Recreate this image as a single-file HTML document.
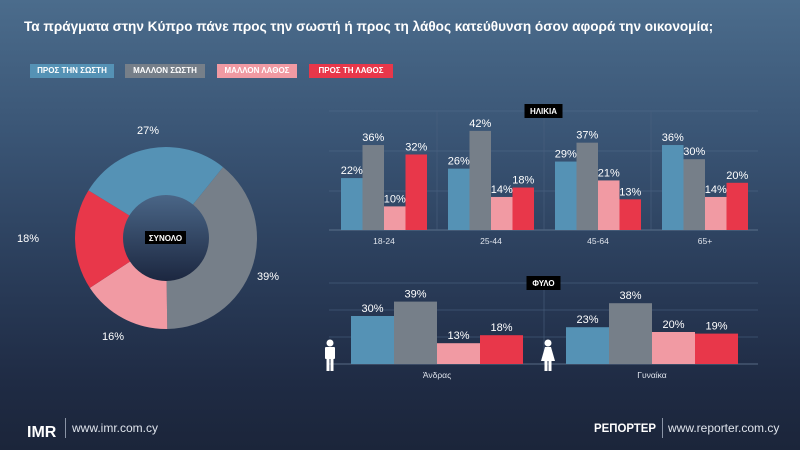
<!DOCTYPE html>
<html><head><meta charset="utf-8"><style>
*{margin:0;padding:0;box-sizing:border-box}
body{width:800px;height:450px;overflow:hidden;font-family:"Liberation Sans","DejaVu Sans",sans-serif;background:linear-gradient(180deg,#4b6c8c 0%,#3a5575 30%,#2a3d5a 60%,#1f2b44 85%,#1b253a 100%);position:relative;color:#fff}
.t{position:absolute;left:24px;top:19px;font-size:13.6px;font-weight:bold;white-space:nowrap}
.lg{position:absolute;top:64px;height:14px;font-size:8px;font-weight:bold;color:#fff;text-align:center;line-height:14px}
</style></head><body>
<div class="t">Τα πράγματα στην Κύπρο πάνε προς την σωστή ή προς τη λάθος κατεύθυνση όσον αφορά την οικονομία;</div>
<div class="lg" style="left:30px;width:84px;background:#5592b5">ΠΡΟΣ ΤΗΝ ΣΩΣΤΗ</div>
<div class="lg" style="left:125px;width:80px;background:#767f89">ΜΑΛΛΟΝ ΣΩΣΤΗ</div>
<div class="lg" style="left:217px;width:80px;background:#f19aa3">ΜΑΛΛΟΝ ΛΑΘΟΣ</div>
<div class="lg" style="left:309px;width:84px;background:#e8374a">ΠΡΟΣ ΤΗ ΛΑΘΟΣ</div>
<svg width="800" height="450" style="position:absolute;left:0;top:0" font-family="Liberation Sans, DejaVu Sans, sans-serif">
<defs><linearGradient id="hole" x1="0" y1="0" x2="0" y2="1"><stop offset="0" stop-color="#4a6687"/><stop offset="1" stop-color="#1c2740"/></linearGradient></defs>
<g id="donut"></g>
<circle cx="166" cy="238" r="43" fill="url(#hole)"/>
<rect x="145" y="231" width="41" height="13" fill="#000"/>
<text x="165.5" y="241" font-size="8" font-weight="bold" fill="#fff" text-anchor="middle">ΣΥΝΟΛΟ</text>
<g font-size="11" fill="#fff" text-anchor="middle">
<text x="148" y="134">27%</text><text x="268" y="280">39%</text><text x="113" y="340">16%</text><text x="28" y="242">18%</text>
</g>
<g id="charts"></g>
<g fill="#fff">
<circle cx="330" cy="343" r="3.5"/><rect x="325" y="347" width="10" height="12" rx="1"/><rect x="326.5" y="358" width="3" height="13"/><rect x="330.5" y="358" width="3" height="13"/>
<circle cx="548" cy="343" r="3.5"/><path d="M545 347h6l4 14h-14z"/><rect x="544.5" y="360" width="3" height="11"/><rect x="548.5" y="360" width="3" height="11"/>
</g>
<text x="27" y="437" font-size="16" font-weight="bold" fill="#fff">IMR</text>
<rect x="65" y="418" width="1" height="20" fill="#8a94a6"/>
<text x="72" y="432" font-size="12" fill="#dfe4ec">www.imr.com.cy</text>
<text x="594" y="432" font-size="12" font-weight="bold" fill="#fff" textLength="62" lengthAdjust="spacingAndGlyphs">РЕПОРТЕР</text>
<rect x="662" y="418" width="1" height="20" fill="#8a94a6"/>
<text x="668" y="432" font-size="12" fill="#dfe4ec">www.reporter.com.cy</text>
</svg>
<script>
const ns="http://www.w3.org/2000/svg";
function el(p,t,a,txt){const e=document.createElementNS(ns,t);for(const k in a)e.setAttribute(k,a[k]);if(txt!==undefined)e.textContent=txt;p.appendChild(e);return e;}
const C=["#5592b5","#767f89","#f19aa3","#e8374a"];
const d=document.getElementById("donut");
const vals=[[1,39],[2,16],[3,18],[0,27]];let a=38.8;const cx=166,cy=238,R=91;
vals.forEach(([c,v])=>{const a2=a+v*3.6;const r1=a*Math.PI/180,r2=a2*Math.PI/180;
const x1=cx+R*Math.sin(r1),y1=cy-R*Math.cos(r1),x2=cx+R*Math.sin(r2),y2=cy-R*Math.cos(r2);
el(d,"path",{d:`M${cx} ${cy}L${x1} ${y1}A${R} ${R} 0 ${v>50?1:0} 1 ${x2} ${y2}Z`,fill:C[c]});a=a2;});
const g=document.getElementById("charts");
function chart(top,base,grids,x0,x1,divs,title,tw,groups,scale,bw,lblY){
 [top,...grids].forEach(y=>el(g,"line",{x1:x0,x2:x1,y1:y,y2:y,stroke:"#56708f","stroke-width":0.8,opacity:0.6}));
 el(g,"line",{x1:x0,x2:x1,y1:base,y2:base,stroke:"#6a7f99","stroke-width":0.8});
 divs.forEach(x=>el(g,"line",{x1:x,x2:x,y1:top,y2:base,stroke:"#4a607e","stroke-width":0.6}));
 const mx=(x0+x1)/2;el(g,"rect",{x:mx-tw/2,y:top-7,width:tw,height:14,fill:"#000"});
 el(g,"text",{x:mx,y:top+3,"font-size":8,"font-weight":"bold",fill:"#fff","text-anchor":"middle"},title);
 groups.forEach(([bx,lbl,v])=>{v.forEach((val,i)=>{const h=val*scale,x=bx+i*bw;
  el(g,"rect",{x:x,y:base-h,width:bw,height:h,fill:C[i]});
  el(g,"text",{x:x+bw/2,y:base-h-4,"font-size":11,fill:"#fff","text-anchor":"middle"},val+"%");});
  el(g,"text",{x:bx+bw*2,y:lblY,"font-size":8.5,fill:"#dfe4ec","text-anchor":"middle"},lbl);});
}
chart(111,230,[151,191],329,758,[437,544,651],"ΗΛΙΚΙΑ",38,
 [[341,"18-24",[22,36,10,32]],[448,"25-44",[26,42,14,18]],[555,"45-64",[29,37,21,13]],[662,"65+",[36,30,14,20]]],2.36,21.5,244);
chart(283,364,[310,337],329,758,[544],"ΦΥΛΟ",34,
 [[351,"Άνδρας",[30,39,13,18]],[566,"Γυναίκα",[23,38,20,19]]],1.6,43,378);
</script>
</body></html>
